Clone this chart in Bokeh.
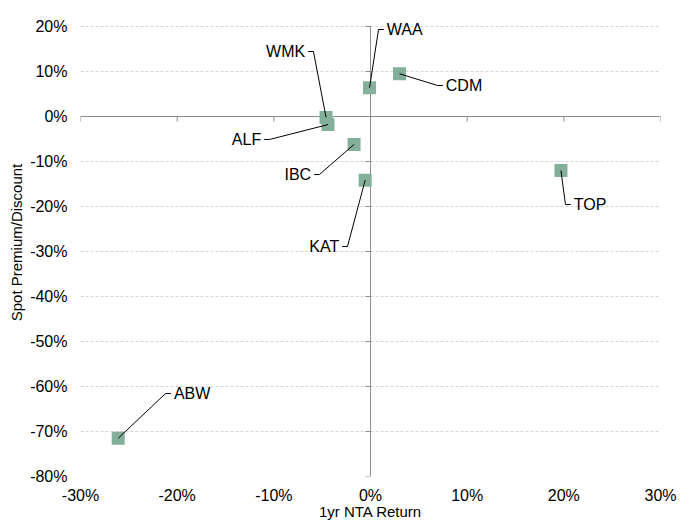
import math
from bokeh.plotting import figure
from bokeh.models import (Range1d, FixedTicker, NumeralTickFormatter, ColumnDataSource)
from bokeh.core.properties import value
from bokeh.embed import file_html
from bokeh.resources import INLINE

# ---- data ----
names = ["ABW", "TOP", "CDM", "WAA", "WMK", "ALF", "IBC", "KAT"]
nta_return = [-0.261, 0.197, 0.030, -0.001, -0.046, -0.044, -0.017, -0.0055]
premium = [-0.715, -0.120, 0.095, 0.064, -0.002, -0.018, -0.062, -0.1415]

x_ticks = [-0.3, -0.2, -0.1, 0.0, 0.1, 0.2, 0.3]
y_ticks = [-0.8, -0.7, -0.6, -0.5, -0.4, -0.3, -0.2, -0.1, 0.0, 0.1, 0.2]

# label layout (leader-line elbow in data units, side of text: 1 right, -1 left)
elbow_x = [-0.212, 0.2017, 0.0693, 0.0083, -0.059, -0.1045, -0.0528, -0.0238]
elbow_y = [-0.6156, -0.1956, 0.0689, 0.1933, 0.1444, -0.0511, -0.1289, -0.2889]
side = [1, 1, 1, 1, -1, -1, -1, -1]
stub = 0.0055

FONT = "Liberation Sans"

# frame: x -30%..30% ; y -80%..24% (headroom so top labels are not clipped)
p = figure(width=693, height=530, output_backend="svg", toolbar_location=None,
           x_range=Range1d(-0.30, 0.30), y_range=Range1d(-0.80, 0.24),
           min_border_left=80, min_border_right=33, min_border_top=8, min_border_bottom=54)
p.outline_line_color = None
p.background_fill_color = "white"

# axes
for ax in (p.xaxis[0], p.yaxis[0]):
    ax.axis_line_color = None
    ax.major_tick_line_color = None
    ax.minor_tick_line_color = None
    ax.major_tick_out = 0
    ax.major_tick_in = 0
    ax.formatter = NumeralTickFormatter(format="0%")
    ax.major_label_text_font = FONT
    ax.major_label_text_font_size = "16px"
    ax.major_label_text_color = "#000000"
    ax.axis_label_text_font = FONT
    ax.axis_label_text_font_size = "15px"
    ax.axis_label_text_font_style = "normal"
    ax.axis_label_text_color = "#000000"
p.xaxis.ticker = FixedTicker(ticks=x_ticks)
p.yaxis.ticker = FixedTicker(ticks=y_ticks)
p.xaxis.axis_label = "1yr NTA Return"
p.yaxis.axis_label = "Spot Premium/Discount"
p.xaxis.major_label_standoff = 10
p.yaxis.major_label_standoff = 13
p.xaxis.axis_label_standoff = -4
p.yaxis.axis_label_standoff = 2

p.xgrid.visible = False
p.ygrid.ticker = FixedTicker(ticks=y_ticks)
p.ygrid.grid_line_color = "#d4d4d4"
p.ygrid.grid_line_dash = "3 2"
p.ygrid.grid_line_width = 1

# zero axis lines (crossing at 0), with small tick marks
axis_col = "#8c8c8c"
p.segment(x0=[0], y0=[min(y_ticks)], x1=[0], y1=[max(y_ticks)],
          line_color=axis_col, line_width=1)
p.segment(x0=[min(x_ticks)], y0=[0], x1=[max(x_ticks)], y1=[0],
          line_color=axis_col, line_width=1)
p.ray(x=x_ticks, y=[0] * len(x_ticks), length=5, length_units="screen",
      angle=-math.pi / 2, line_color=axis_col, line_width=1)
p.ray(x=[0] * len(y_ticks), y=y_ticks, length=5, length_units="screen",
      angle=math.pi, line_color=axis_col, line_width=1)

# markers
src = ColumnDataSource(dict(x=nta_return, y=premium, name=names))
p.scatter("x", "y", source=src, marker="square", size=13,
          fill_color="#84b09b", line_color=None)

# leader lines
xs, ys = [], []
for px, py, ex, ey, s in zip(nta_return, premium, elbow_x, elbow_y, side):
    xs.append([px, ex, ex + s * stub])
    ys.append([py, ey, ey])
p.multi_line(xs, ys, line_color="#000000", line_width=1)

# labels
rx = [ex + s * stub for ex, s in zip(elbow_x, side) if s > 0]
ry = [ey for ey, s in zip(elbow_y, side) if s > 0]
rn = [n for n, s in zip(names, side) if s > 0]
lx = [ex + s * stub for ex, s in zip(elbow_x, side) if s < 0]
ly = [ey for ey, s in zip(elbow_y, side) if s < 0]
ln = [n for n, s in zip(names, side) if s < 0]
p.text(x=rx, y=ry, text=rn, x_offset=3, text_align="left", text_baseline="middle",
       text_font=value(FONT), text_font_size="16px", text_color="#000000")
p.text(x=lx, y=ly, text=ln, x_offset=-3, text_align="right", text_baseline="middle",
       text_font=value(FONT), text_font_size="16px", text_color="#000000")

open("out.html", "w").write(file_html(p, INLINE))
